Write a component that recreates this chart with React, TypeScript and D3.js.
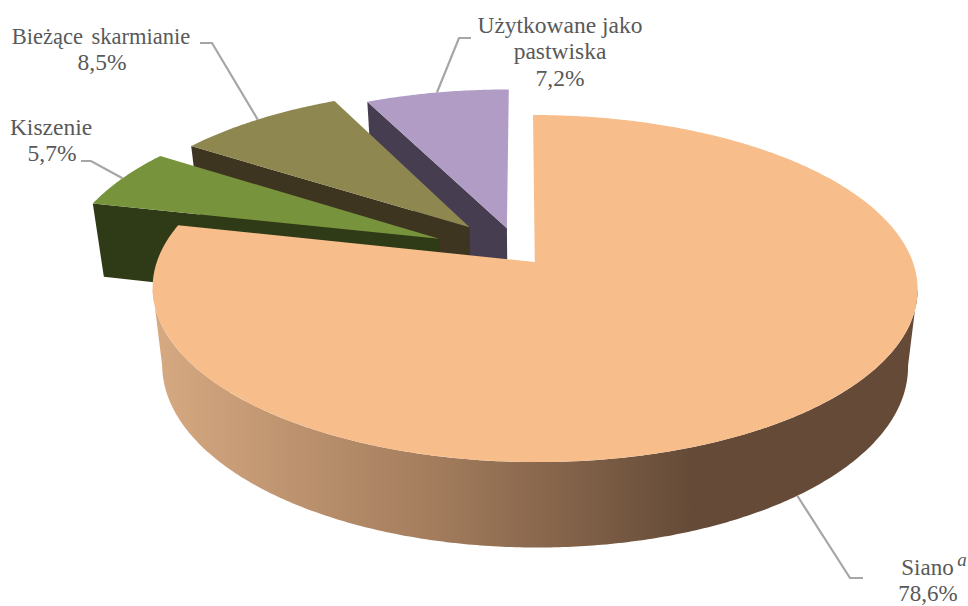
import React from 'react';
import * as d3 from 'd3';

// data
const categories = ['Siano', 'Kiszenie', 'Bieżące skarmianie', 'Użytkowane jako pastwiska'];
const values = [78.6, 5.7, 8.5, 7.2];
const valueLabels = ['78,6%', '5,7%', '8,5%', '7,2%'];

// styles per slice
const topColors = ['#F7BD8B', '#77933C', '#8F8750', '#B09CC4'];
const sideColors = ['#644A37', '#2F3A17', '#3D3520', '#463E50'];
// how far each slice is pulled out of the pie, in units of the radius
const pullX = [0, -0.258, -0.177, -0.075];
const pullY = [0, -0.14, -0.212, -0.206];

const width = 968;
const height = 606;

// perspective projection of the pie plate
const cx = 534.8;
const cy = 262;
const rx = 378;
const ry = 169.5;
const persp = 0.153;
const shear = 0.012;
const bottomScaleX = 0.975;
const bottomScaleY = 1.047;
const depth = 76;

type Pt = [number, number];

function project(u: number, v: number): Pt {
  const s = 1 / (1 - persp * v);
  const y = ry * v * s;
  return [cx + rx * u * s + shear * y, cy + y];
}

function toBottom([x, y]: Pt): Pt {
  return [cx + (x - cx) * bottomScaleX, cy + (y - cy) * bottomScaleY + depth];
}

function rim(i: number, a: number): Pt {
  return project(pullX[i] + Math.sin(a), pullY[i] - Math.cos(a));
}

const line = d3.line<Pt>();

const pieData = d3.pie<number>().sort(null)(values);

function arcPoints(i: number, a0: number, a1: number): Pt[] {
  const n = Math.max(2, Math.ceil(Math.abs(a1 - a0) / 0.01));
  return d3.range(n + 1).map(k => rim(i, a0 + ((a1 - a0) * k) / n));
}

function slicePath(i: number): string {
  const { startAngle, endAngle } = pieData[i];
  return line([project(pullX[i], pullY[i]), ...arcPoints(i, startAngle, endAngle)])! + 'Z';
}

// flat cut face of a slice, along its first radius
function cutFacePath(i: number): string {
  const apex = project(pullX[i], pullY[i]);
  const outer = rim(i, pieData[i].startAngle);
  return line([apex, outer, toBottom(outer), toBottom(apex)])! + 'Z';
}

// outer wall of the big slice between its silhouette points
const wallStart = Math.acos(-persp);
const wallEnd = 2 * Math.PI - wallStart;
const wallTop = arcPoints(0, wallStart, wallEnd);
const wallPath = line([...wallTop, ...wallTop.map(toBottom).reverse()])! + 'Z';

const leaderColor = '#A6A6A6';
const textColor = '#595959';

// where the leader starts on the slice edge
function leaderAnchor(i: number): Pt {
  const d = pieData[i];
  const p = rim(i, (d.startAngle + d.endAngle) / 2);
  return i === 0 ? toBottom(p) : p;
}

const leaderBends: Pt[][] = [
  [[850, 578], [863, 578]],
  [[91, 161], [81, 161]],
  [[212, 43], [200, 43]],
  [[459, 38], [471, 38]],
];

export default function App() {
  return (
    <svg
      width={width}
      height={height}
      style={{ position: 'absolute', left: 0, top: 0, display: 'block', background: '#fff' }}
      fontFamily="'Liberation Serif', serif"
      fontSize={23.5}
      fill={textColor}
    >
      <defs>
        <linearGradient id="wall" gradientUnits="userSpaceOnUse" x1={155} x2={905} y1={0} y2={0}>
          <stop offset="0" stopColor="#D6A981" />
          <stop offset="0.36" stopColor="#A57E5E" />
          <stop offset="0.72" stopColor="#644A37" />
          <stop offset="1" stopColor="#644A37" />
        </linearGradient>
      </defs>

      {/* far slices first, the big one covers their feet */}
      {[3, 2, 1].map(i => (
        <g key={categories[i]}>
          <path d={cutFacePath(i)} fill={sideColors[i]} />
          <path d={slicePath(i)} fill={topColors[i]} />
        </g>
      ))}
      <path d={wallPath} fill="url(#wall)" />
      <path d={slicePath(0)} fill={topColors[0]} />

      {categories.map((c, i) => (
        <path
          key={c}
          d={line([leaderAnchor(i), ...leaderBends[i]])!}
          fill="none"
          stroke={leaderColor}
          strokeWidth={2.2}
        />
      ))}

      <g textAnchor="middle">
        <text x={927.5} y={575} fontSize={23}>
          {categories[0]}
        </text>
        <text x={962} y={566} fontStyle="italic" fontSize={19}>
          a
        </text>
        <text x={928} y={600.5} fontSize={23}>
          {valueLabels[0]}
        </text>

        <text x={51} y={135}>
          {categories[1]}
        </text>
        <text x={52} y={161}>
          {valueLabels[1]}
        </text>

        <text x={101} y={44} fontSize={22.5} wordSpacing={3}>
          {categories[2]}
        </text>
        <text x={102} y={70}>
          {valueLabels[2]}
        </text>

        <text x={560} y={33}>
          Użytkowane jako
        </text>
        <text x={560} y={59}>
          pastwiska
        </text>
        <text x={560} y={86}>
          {valueLabels[3]}
        </text>
      </g>
    </svg>
  );
}
